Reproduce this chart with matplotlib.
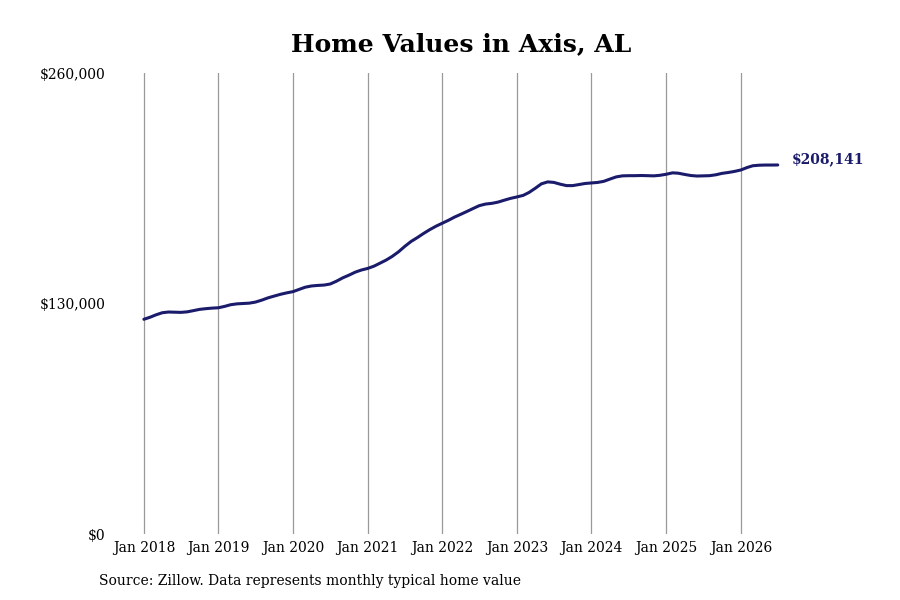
import matplotlib as mpl
mpl.use('Agg')
import matplotlib.pyplot as plt
import matplotlib.dates as mdates
import pandas as pd

#typical home value, monthly from Jan 2018 to Jul 2026
values = [
    121100, 122300, 123600, 124800, 125200, 125100, 125000, 125300, 126000, 126700, 127100, 127400,
    127600, 128400, 129300, 129800, 130000, 130200, 130800, 131900, 133200, 134200, 135200, 136000,
    136700, 138000, 139200, 139900, 140200, 140400, 141000, 142600, 144500, 146000, 147700, 148900,
    149800, 151100, 152700, 154500, 156600, 159200, 162200, 165000, 167200, 169500, 171700, 173600,
    175300, 177000, 178700, 180300, 181900, 183600, 185200, 186100, 186500, 187200, 188300, 189300,
    190100, 191000, 192600, 195000, 197500, 198600, 198300, 197300, 196500, 196500, 197100, 197700,
    198000, 198300, 198900, 200200, 201400, 202000, 202100, 202100, 202200, 202100, 202000, 202300,
    202900, 203700, 203500, 202800, 202200, 201900, 202000, 202100, 202600, 203400, 203900, 204500,
    205300, 206700, 207700, 208000, 208100, 208100, 208141,
]
dates = pd.date_range('2018-01-01', periods=len(values), freq='MS')
ytick_vals = [0, 130000, 260000]
ytick_labels = ['$0', '$130,000', '$260,000']
end_label = '$208,141'

navy = '#1b1b6b'
plt.rcParams['font.family'] = ['DejaVu Serif']

fig = plt.figure(figsize=(9, 6), dpi=100)
ax = fig.add_axes([0.1222, 0.11, 0.744, 0.7683])

ax.plot(dates, values, color=navy, linewidth=2.2, solid_capstyle='round')
ax.text(dates[-1] + pd.Timedelta(days=68), values[-1] + 3000, end_label,
        color=navy, fontsize=10, fontweight='bold', va='center', ha='left')

ax.set_ylim(0, 260000)
ax.set_yticks(ytick_vals)
ax.set_yticklabels(ytick_labels)
ax.set_xlim(pd.Timestamp('2017-07-19'), pd.Timestamp('2026-07-10'))
ax.xaxis.set_major_locator(mdates.YearLocator())
ax.xaxis.set_major_formatter(mdates.DateFormatter('Jan %Y'))

ax.grid(axis='x', color='#999999', linewidth=0.9)
ax.grid(axis='y', visible=False)
for s in ax.spines.values():
    s.set_visible(False)
ax.tick_params(axis='both', length=0, labelsize=10, colors='black')
ax.tick_params(axis='x', pad=5)
ax.tick_params(axis='y', pad=3)

fig.text(0.5125, 0.926, 'Home Values in Axis, AL', ha='center', va='center',
         fontsize=18, fontweight='bold')
fig.text(0.11, 0.032, 'Source: Zillow. Data represents monthly typical home value',
         ha='left', va='center', fontsize=10)

plt.savefig('out.png', dpi=100)
